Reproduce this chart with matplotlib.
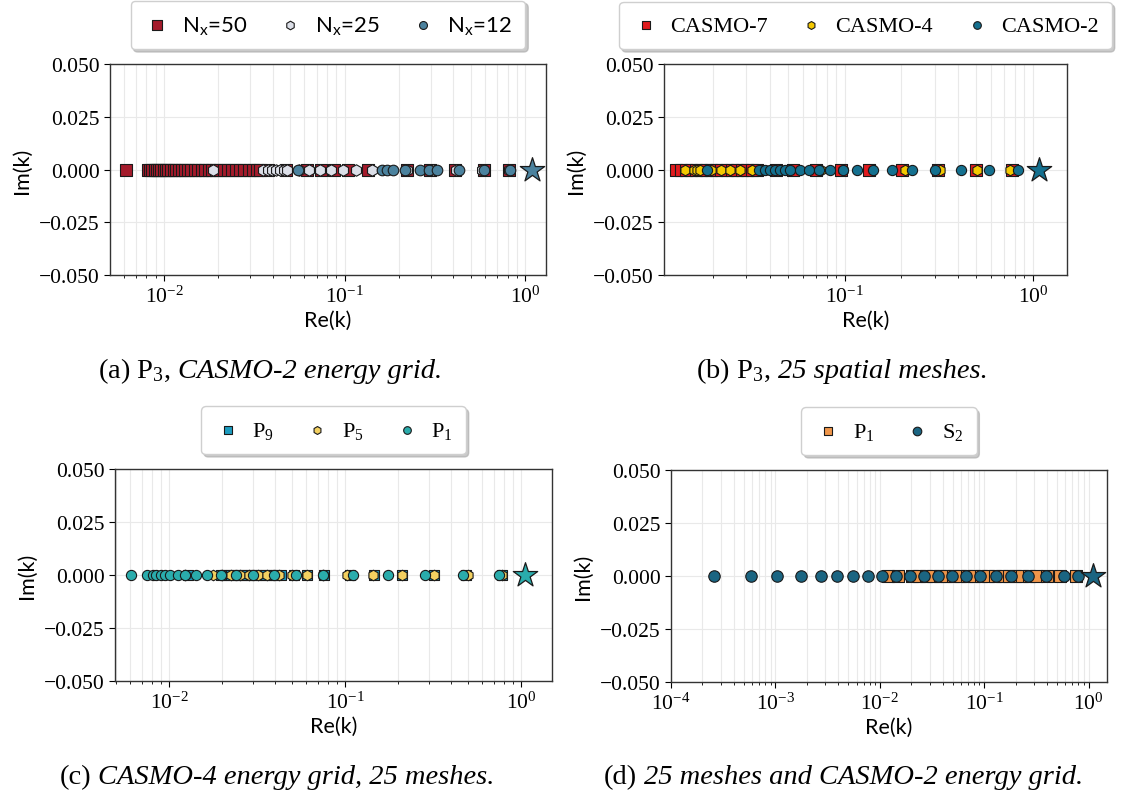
"""Eigenvalue spectra of the transport operator, four panels (a)-(d)."""
import matplotlib as mpl
import matplotlib.pyplot as plt
import numpy as np
from matplotlib.ticker import FuncFormatter, LogLocator, NullFormatter

# ---------------------------------------------------------------------------
# Data: Re(k) of each eigenvalue (Im(k) is zero everywhere)
# ---------------------------------------------------------------------------
# (a) P3, CASMO-2 energy grid
a_nx50 = [0.00614, 0.00818, 0.00840, 0.00863, 0.00887, 0.00912, 0.00938, 0.00966,
          0.00995, 0.01026, 0.01059, 0.01094, 0.01131, 0.01171, 0.01214, 0.01260,
          0.01310, 0.01364, 0.01420, 0.01480, 0.01545, 0.01615, 0.01690, 0.01770,
          0.01856, 0.01948, 0.02046, 0.02150, 0.02262, 0.02382, 0.02510, 0.02646,
          0.02790, 0.02944, 0.03108, 0.03282, 0.03400, 0.0377, 0.0474, 0.0620,
          0.0743, 0.0875, 0.1045, 0.1349, 0.2218, 0.2979, 0.4093, 0.5929, 0.8147]
a_nx25 = [0.01866, 0.03532, 0.03767, 0.03963, 0.04169, 0.04395, 0.04624, 0.04797,
          0.05598, 0.06353, 0.07311, 0.08414, 0.09817, 0.1159, 0.1419, 0.2218,
          0.3090, 0.4150, 0.5781, 0.8147]
a_nx12 = [0.05521, 0.1614, 0.1718, 0.1858, 0.2163, 0.2618, 0.2938, 0.3251,
          0.4305, 0.5929, 0.8260]
a_keff = 1.09

# (b) P3, 25 spatial meshes
b_casmo7 = [0.01268, 0.01349, 0.01435, 0.01528, 0.01622, 0.01726, 0.01837, 0.01954,
            0.02080, 0.02213, 0.02355, 0.02512, 0.02667, 0.02838, 0.03020, 0.03214,
            0.03420, 0.04305, 0.05297, 0.07015, 0.09528, 0.1340, 0.2009, 0.3119,
            0.4966, 0.7709]
b_casmo4 = [0.01413, 0.01578, 0.01637, 0.01698, 0.01941, 0.02193, 0.02449, 0.02767,
            0.03206, 0.03622, 0.07464, 0.09750, 0.2084, 0.3199, 0.5023, 0.7516]
b_casmo2 = [0.01849, 0.03491, 0.03758, 0.03999, 0.04246, 0.04519, 0.04797, 0.05105,
            0.05768, 0.06442, 0.07278, 0.08318, 0.09750, 0.1159, 0.1409, 0.1778,
            0.2270, 0.3006, 0.4130, 0.5821, 0.8299]
b_keff = 1.08

# (c) CASMO-4 energy grid, 25 meshes
c_p9 = [0.01282, 0.01977, 0.02113, 0.02254, 0.02410, 0.02570, 0.02748, 0.02931,
        0.03133, 0.03342, 0.03573, 0.03811, 0.04074, 0.04345, 0.05152, 0.06039,
        0.07638, 0.1062, 0.1452, 0.2099, 0.3192, 0.4864, 0.7798]
c_p5 = [0.01233, 0.01782, 0.02004, 0.02254, 0.02541, 0.02858, 0.03214, 0.03614,
        0.04236, 0.05023, 0.06109, 0.07447, 0.1033, 0.1435, 0.2099, 0.3192,
        0.4989, 0.7798]
c_p1 = [0.00605, 0.00752, 0.00804, 0.00847, 0.00897, 0.00948, 0.01009, 0.01117,
        0.01233, 0.01419, 0.01641, 0.01968, 0.02399, 0.02985, 0.03963, 0.05272,
        0.07482, 0.1107, 0.1754, 0.2838, 0.4688, 0.7499]
c_keff = 1.055

# (d) 25 meshes and CASMO-2 energy grid
d_p1 = [0.01191, 0.01503, 0.02037, 0.02371, 0.02761, 0.03221, 0.03750, 0.04355,
        0.05070, 0.05916, 0.06887, 0.08017, 0.09333, 0.1086, 0.1268, 0.1472,
        0.1714, 0.1995, 0.2328, 0.2710, 0.3148, 0.3963, 0.5370, 0.7568]
d_s2 = [0.0002564, 0.0005781, 0.001047, 0.001758, 0.002710, 0.003908, 0.005598,
        0.007762, 0.01050, 0.01416, 0.01932, 0.02661, 0.03606, 0.04887, 0.06637,
        0.09204, 0.1294, 0.1824, 0.2642, 0.3873, 0.5794, 0.7852]
d_keff = 1.104

# ---------------------------------------------------------------------------
# Style
# ---------------------------------------------------------------------------
W, H, DPI = 1123, 803, 100
SERIF = "Liberation Serif"
SANS = "Lato"
FS_TICK = 15.5
FS_LABEL = 15.5
FS_LEGEND = 16
FS_CAPTION = 20.5
EDGE = "#1a1a1a"

mpl.rcParams.update({
    "font.family": "serif",
    "font.serif": [SERIF, "DejaVu Serif"],
    "mathtext.fontset": "custom",
    "mathtext.rm": SERIF,
    "mathtext.it": SERIF + ":italic",
    "mathtext.bf": SERIF + ":bold",
    "axes.edgecolor": "#333333",
    "axes.linewidth": 1.0,
    "xtick.labelsize": FS_TICK,
    "ytick.labelsize": FS_TICK,
    "xtick.major.size": 4, "ytick.major.size": 4,
    "xtick.minor.size": 2.5,
})


def px_box(x0, y0, x1, y1):
    """Pixel box (top-left origin) -> figure fraction rect."""
    return [x0 / W, 1 - y1 / H, (x1 - x0) / W, (y1 - y0) / H]


def style_axes(ax, xlim):
    ax.set_xscale("log")
    ax.set_xlim(*xlim)
    ax.set_ylim(-0.05, 0.05)
    ax.set_yticks([-0.05, -0.025, 0.0, 0.025, 0.05])
    ax.yaxis.set_major_formatter(FuncFormatter(lambda v, p: f"{v:.3f}".replace("-", "\u2212")))
    ax.xaxis.set_minor_locator(LogLocator(base=10, subs=np.arange(2, 10), numticks=20))
    ax.xaxis.set_minor_formatter(NullFormatter())
    ax.grid(True, which="both", axis="x", color="#e9e9e9", lw=0.8, zorder=0)
    ax.grid(True, which="major", axis="y", color="#e9e9e9", lw=0.8, zorder=0)
    ax.set_axisbelow(True)
    ax.set_xlabel("Re(k)", family=SANS, fontsize=FS_LABEL, labelpad=2)
    ax.set_ylabel("Im(k)", family=SANS, fontsize=FS_LABEL, labelpad=5)


def scatter(ax, xs, marker, color, s, label, z):
    ax.scatter(xs, np.zeros(len(xs)), marker=marker, s=s, c=color,
               edgecolors=EDGE, linewidths=0.8, label=label, zorder=z)


def star(ax, k, color):
    ax.scatter([k], [0.0], marker="*", s=340, c=color, edgecolors=EDGE,
               linewidths=0.9, zorder=10)


def legend(ax, family):
    lg = ax.legend(loc="lower center", bbox_to_anchor=(0.5, 1.07), ncol=3,
                   borderaxespad=0, frameon=True, fancybox=True,
                   shadow={"color": "#a8a8a8", "alpha": 0.6},
                   edgecolor="#cfcfcf", facecolor="white", framealpha=1,
                   markerscale=0.75, handlelength=1.2, handletextpad=0.5,
                   columnspacing=1.35, borderpad=0.6,
                   prop={"family": family, "size": FS_LEGEND})
    return lg


fig = plt.figure(figsize=(W / DPI, H / DPI), dpi=DPI)

# (a)
ax = fig.add_axes(px_box(110, 65, 546, 276))
scatter(ax, a_nx50, "s", "#a41b2b", 76, r"N$_\mathregular{x}$=50", 3)
scatter(ax, a_nx25, "h", "#dcdfe8", 68, r"N$_\mathregular{x}$=25", 4)
scatter(ax, a_nx12, "o", "#4b829e", 58, r"N$_\mathregular{x}$=12", 5)
star(ax, a_keff, "#4b829e")
style_axes(ax, (10 ** -2.299, 10 ** 0.116))
legend(ax, SANS)

# (b)
ax = fig.add_axes(px_box(664, 65, 1067, 276))
scatter(ax, b_casmo7, "s", "#e01b1e", 64, "CASMO-7", 3)
scatter(ax, b_casmo4, "h", "#f4c800", 58, "CASMO-4", 4)
scatter(ax, b_casmo2, "o", "#14708f", 54, "CASMO-2", 5)
star(ax, b_keff, "#14708f")
style_axes(ax, (10 ** -1.96, 10 ** 0.18))
legend(ax, SERIF)

# (c)
ax = fig.add_axes(px_box(115, 470, 552, 682))
scatter(ax, c_p9, "s", "#1c9cc0", 60, r"P$_9$", 3)
scatter(ax, c_p5, "h", "#f3d060", 58, r"P$_5$", 4)
scatter(ax, c_p1, "o", "#2aacac", 54, r"P$_1$", 5)
star(ax, c_keff, "#2aacac")
style_axes(ax, (10 ** -2.308, 10 ** 0.177))
legend(ax, SERIF)

# (d)
ax = fig.add_axes(px_box(671, 471, 1107, 683))
scatter(ax, d_p1, "s", "#f0964a", 64, r"P$_1$", 3)
scatter(ax, d_s2, "o", "#1b6582", 68, r"S$_2$", 4)
star(ax, d_keff, "#1b6582")
style_axes(ax, (1e-4, 10 ** 0.177))
legend(ax, SERIF)


# ---------------------------------------------------------------------------
# Sub-captions: upright prefix + italic remainder, centred as a whole
# ---------------------------------------------------------------------------
def caption(xc, yc, upright, italic):
    r = fig.canvas.get_renderer()
    t1 = fig.text(0, 1 - yc / H, upright, fontsize=FS_CAPTION, va="center", ha="left")
    t2 = fig.text(0, 1 - yc / H, italic, fontsize=FS_CAPTION, style="italic",
                  va="center", ha="left")
    w1 = t1.get_window_extent(r).width
    w2 = t2.get_window_extent(r).width
    gap = 7
    x0 = xc - (w1 + gap + w2) / 2
    t1.set_x(x0 / W)
    t2.set_x((x0 + w1 + gap) / W)


caption(270, 371, r"(a) P$_3$,", "CASMO-2 energy grid.")
caption(842, 371, r"(b) P$_3$,", "25 spatial meshes.")
caption(277, 778, "(c)", "CASMO-4 energy grid, 25 meshes.")
caption(843, 778, "(d)", "25 meshes and CASMO-2 energy grid.")

fig.savefig("out.png", dpi=DPI, facecolor="white")
